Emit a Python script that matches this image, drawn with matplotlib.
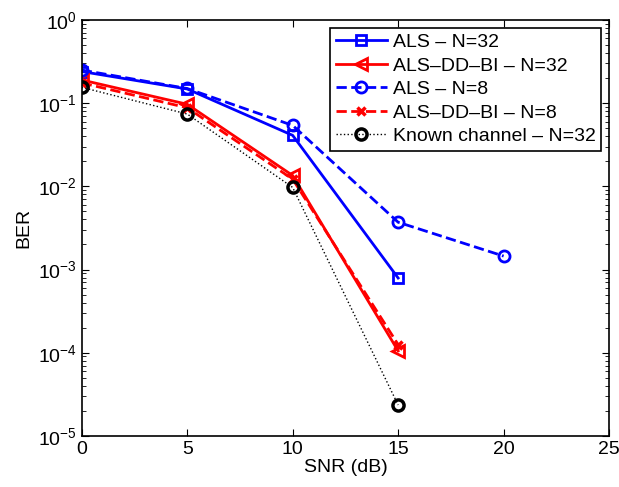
import numpy as np
import matplotlib
matplotlib.use('Agg')
import matplotlib.pyplot as plt

plt.rcParams['font.family'] = ['Liberation Sans', 'DejaVu Sans']
plt.rcParams['mathtext.fontset'] = 'custom'
plt.rcParams['mathtext.rm'] = 'Liberation Sans'

# ---------------- data ----------------
snr = [0, 5, 10, 15]
snr_n8 = [0, 5, 10, 15, 20]

ber_als_32 = [0.24, 0.148, 0.041, 0.00079]
ber_dd_32 = [0.19, 0.097, 0.0135, 0.000105]
ber_als_8 = [0.25, 0.15, 0.054, 0.0037, 0.00145]
ber_dd_8 = [0.175, 0.088, 0.0122, 0.000125]
ber_known_32 = [0.155, 0.074, 0.0097, 2.35e-5]

labels = ['ALS \u2013 N=32', 'ALS\u2013DD\u2013BI \u2013 N=32', 'ALS \u2013 N=8',
          'ALS\u2013DD\u2013BI \u2013 N=8', 'Known channel \u2013 N=32']

fig = plt.figure(figsize=(6.19, 4.87), dpi=100)
ax = fig.add_axes([0.132, 0.105, 0.852, 0.854])

ax.semilogy(snr, ber_als_32, 'b-s', lw=2, ms=7, mfc='none', mew=2, label=labels[0])
ax.semilogy(snr, ber_dd_32, 'r-<', lw=2, ms=9, mfc='none', mew=2, label=labels[1])
ax.semilogy(snr_n8, ber_als_8, 'b--o', lw=2, ms=8, mfc='none', mew=2, label=labels[2])
ax.semilogy(snr, ber_dd_8, 'r--x', lw=2, ms=6, mew=2.5, label=labels[3])
ax.semilogy(snr, ber_known_32, 'k:o', lw=1, ms=8, mfc='none', mew=2.5, label=labels[4])

ax.set_xlim(0, 25)
ax.set_ylim(1e-5, 1)
ax.set_xticks([0, 5, 10, 15, 20, 25])
ax.tick_params(which='both', direction='in', top=True, right=True, labelsize=14)
ax.tick_params(which='major', length=5)
ax.tick_params(which='minor', length=3)
for s in ax.spines.values():
    s.set_linewidth(1.2)

ax.set_xlabel('SNR (dB)', fontsize=14, labelpad=1)
ax.set_ylabel('BER', fontsize=14, labelpad=4)

leg = ax.legend(loc='upper right', fontsize=14, fancybox=False, framealpha=1,
                edgecolor='black', borderpad=0.3, labelspacing=0.3,
                handlelength=2.6, handletextpad=0.3, borderaxespad=0.4)
leg.get_frame().set_linewidth(1.2)

fig.savefig('out.png', dpi=100)
